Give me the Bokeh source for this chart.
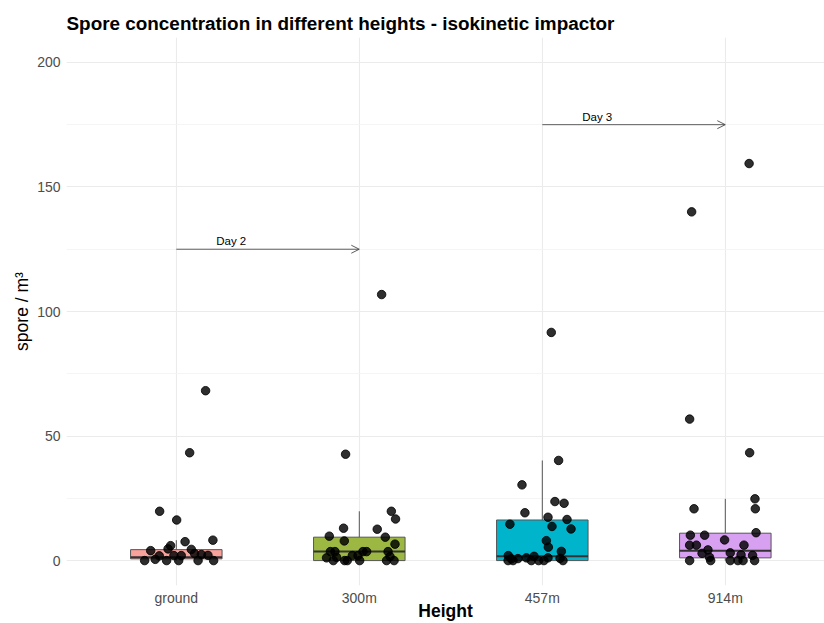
from bokeh.plotting import figure
from bokeh.models import ColumnDataSource, FixedTicker, Arrow, OpenHead
from bokeh.core.properties import value
from bokeh.embed import file_html
from bokeh.resources import INLINE

# ---------------- data ----------------
categories = ["ground", "300m", "457m", "914m"]
box_colors = ["#F9A19B", "#9CB843", "#00B4CC", "#D7A0F0"]

# box statistics (spore / m^3)
q1 = [0.7, 0.0, 0.0, 1.1]
median = [1.3, 3.6, 1.7, 4.0]
q3 = [4.4, 9.4, 16.3, 11.0]
whisker_hi = [8.2, 19.8, 40.2, 24.8]
whisker_lo = [0.0, 0.0, 0.0, 0.0]

# jittered observations: horizontal jitter (category units) and value
ground_jit = [0.16, 0.073, -0.091, 0.002, 0.048, 0.20, -0.031, -0.045, -0.14, 0.082, -0.093,
              0.10, 0.137, 0.173, 0.027, -0.013, -0.173, -0.115, -0.053, 0.013, 0.119, 0.204]
ground_val = [68.2, 43.3, 19.8, 16.3, 7.6, 8.2, 6.0, 4.7, 4.0, 4.5, 1.9,
              2.8, 2.4, 2.1, 2.0, 2.0, 0.0, 0.5, 0.0, 0.0, 0.0, 0.0]

m300_jit = [0.122, -0.075, 0.175, 0.198, -0.086, 0.098, -0.164, 0.142, -0.082, 0.195, -0.158,
            -0.133, 0.02, 0.04, 0.157, -0.038, -0.007, -0.179, -0.124, 0.168, -0.142, -0.08,
            -0.066, 0.002, 0.149, 0.19]
m300_val = [106.8, 42.7, 19.8, 16.7, 13.0, 12.6, 9.8, 9.4, 7.9, 6.6, 3.6,
            3.6, 3.6, 3.6, 3.6, 2.0, 2.0, 1.1, 1.3, 1.6, 0.0, 0.0,
            0.0, 0.0, 0.0, 0.0]

m457_jit = [0.049, 0.089, -0.111, 0.069, 0.119, -0.095, 0.031, 0.135, -0.177, 0.053, 0.157,
            0.022, 0.033, 0.104, -0.186, -0.045, -0.087, -0.133, 0.097, 0.031, -0.187, -0.16,
            -0.06, -0.02, 0.009, 0.113, -0.169]
m457_val = [91.6, 40.2, 30.4, 23.7, 23.0, 19.2, 17.4, 16.5, 14.6, 13.7, 12.7,
            8.0, 5.4, 3.7, 2.0, 1.7, 1.1, 0.8, 0.9, 1.1, 0.0, 0.0,
            0.0, 0.0, 0.0, 0.0, 0.7]

m914_jit = [0.13, -0.184, -0.195, 0.133, 0.162, -0.171, 0.164, 0.168, -0.191, -0.113, -0.004,
            0.102, -0.195, -0.158, -0.095, -0.127, 0.027, 0.086, 0.149, -0.086, -0.195, -0.08,
            0.027, 0.069, 0.097, 0.16]
m914_val = [159.4, 140.0, 56.8, 43.3, 24.8, 20.8, 20.8, 11.2, 10.2, 10.2, 8.3,
            6.2, 6.2, 6.2, 4.3, 2.9, 3.1, 2.3, 2.1, 1.3, 0.0, 0.0,
            0.0, 0.0, 0.0, 0.0]

# day annotations
day_labels = ["Day 2", "Day 3"]
day_start = [1, 3]
day_end = [2, 4]
day_y = [125, 175]
day_label_x = [1.3, 3.3]

y_major = [0, 50, 100, 150, 200]
y_minor = [25, 75, 125, 175]

# ---------------- figure ----------------
FONT = "Liberation Sans"
pos = list(range(1, len(categories) + 1))

p = figure(width=824, height=623, output_backend="svg", toolbar_location=None,
           x_range=(0.4, 4.542), y_range=(-10, 210),
           min_border_left=66, min_border_right=0, min_border_top=37, min_border_bottom=38,
           title="Spore concentration in different heights - isokinetic impactor")
p.outline_line_color = None
p.background_fill_color = "white"
p.border_fill_color = "white"

p.title.text_font = FONT
p.title.text_font_size = "18.9px"
p.title.text_font_style = "bold"
p.title.text_color = "black"
p.title.align = "left"
p.title.standoff = 8

# axes
p.xaxis.ticker = FixedTicker(ticks=pos)
p.xaxis.major_label_overrides = {i: c for i, c in zip(pos, categories)}
p.yaxis.ticker = FixedTicker(ticks=y_major, minor_ticks=y_minor)
p.xgrid.ticker = FixedTicker(ticks=pos)
for ax in (p.xaxis, p.yaxis):
    ax.axis_line_color = None
    ax.major_tick_line_color = None
    ax.minor_tick_line_color = None
    ax.major_tick_out = 0
    ax.major_tick_in = 0
    ax.minor_tick_out = 0
    ax.minor_tick_in = 0
    ax.major_label_text_font = FONT
    ax.major_label_text_font_size = "14px"
    ax.major_label_text_color = "#4D4D4D"
    ax.axis_label_text_font = FONT
    ax.axis_label_text_color = "black"
    ax.axis_label_text_font_size = "17.5px"
p.xaxis.axis_label = "Height"
p.xaxis.axis_label_text_font_style = "bold"
p.xaxis.major_label_standoff = 4
p.xaxis.axis_label_standoff = -8
p.xaxis.axis_label_text_baseline = "middle"
p.yaxis.axis_label = "spore / m³"
p.yaxis.axis_label_text_font_style = "normal"
p.yaxis.axis_label_standoff = 2
p.yaxis.major_label_standoff = 6

p.xgrid.grid_line_color = "#EBEBEB"
p.xgrid.grid_line_width = 1.1
p.ygrid.grid_line_color = "#EBEBEB"
p.ygrid.grid_line_width = 1.1
p.ygrid.minor_grid_line_color = "#F3F3F3"
p.ygrid.minor_grid_line_width = 0.8

# boxes
box_src = ColumnDataSource(dict(x=pos, q1=q1, med=median, q3=q3, hi=whisker_hi, lo=whisker_lo,
                                color=box_colors,
                                left=[x - 0.25 for x in pos], right=[x + 0.25 for x in pos]))
p.segment(x0="x", y0="q3", x1="x", y1="hi", source=box_src, line_color="#555555", line_width=1)
p.segment(x0="x", y0="lo", x1="x", y1="q1", source=box_src, line_color="#555555", line_width=1)
p.vbar(x="x", width=0.5, bottom="q1", top="q3", source=box_src, fill_color="color",
       fill_alpha=1.0, line_color="#555555", line_width=1)
p.segment(x0="left", y0="med", x1="right", y1="med", source=box_src,
          line_color="#333333", line_width=2)

# points
px, py = [], []
for i, (jit, val) in enumerate([(ground_jit, ground_val), (m300_jit, m300_val),
                                (m457_jit, m457_val), (m914_jit, m914_val)]):
    px += [pos[i] + j for j in jit]
    py += val
pt_src = ColumnDataSource(dict(x=px, y=py))
p.scatter(x="x", y="y", source=pt_src, size=8.5, fill_color="black", fill_alpha=0.82,
          line_color="black", line_alpha=0.82)

# day arrows
arr_src = ColumnDataSource(dict(x0=day_start, x1=day_end, y=day_y))
p.add_layout(Arrow(source=arr_src, x_start="x0", y_start="y", x_end="x1", y_end="y",
                   line_color="#333333", line_width=0.8,
                   end=OpenHead(size=8, line_color="#333333", line_width=0.8)))
lab_src = ColumnDataSource(dict(x=day_label_x, y=day_y, t=day_labels))
p.text(x="x", y="y", text="t", source=lab_src, text_font=value(FONT), text_font_size="11.5px",
       text_align="center", text_baseline="bottom", y_offset=-2, text_color="black")

open("out.html", "w").write(file_html(p, INLINE))
